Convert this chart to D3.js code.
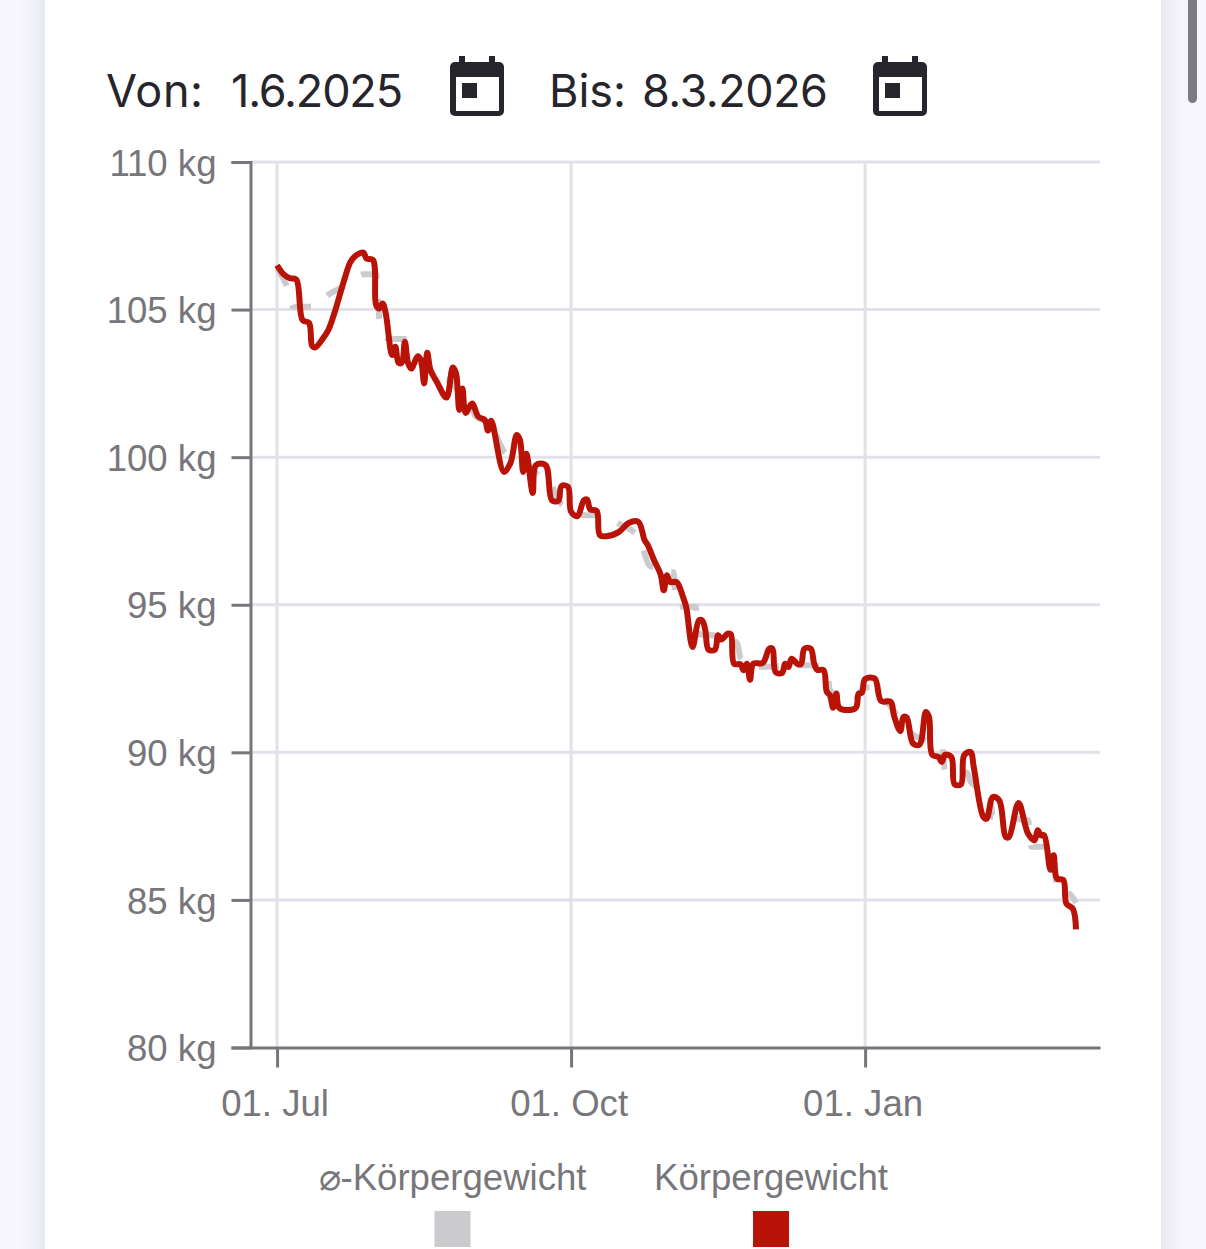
<!DOCTYPE html>
<html>
<head>
<meta charset="utf-8">
<script src="https://cdn.jsdelivr.net/npm/d3@7"></script>
<style>
  html, body { margin: 0; padding: 0; background: #f6f6fc; overflow: hidden; }
  svg { display: block; }
  text { font-family: "Liberation Sans", sans-serif; }
</style>
</head>
<body>
<script>
// variables:
var w = 1206
var h = 1249

// data: days since 1 Jul 2025 and weight in kg
var weightDays = [0, 2, 4, 6, 8, 10, 11, 12, 14, 16, 18, 21, 23, 25, 27, 28, 30, 31, 32, 33, 34, 36, 37, 38, 39, 40, 41, 42, 44, 45, 46, 47, 48, 50, 53, 55, 56, 57, 58, 59, 61, 63, 65, 66, 67, 71, 73, 75, 76, 77, 78, 80, 81, 84, 86, 88, 89, 91, 92, 94, 96, 97, 98, 100, 101, 103, 107, 110, 113, 115, 116, 118, 120, 121, 122, 123, 125, 127, 128, 130, 132, 133, 134, 135, 137, 138, 139, 141, 142, 143, 145, 146, 147, 148, 149, 152, 154, 155, 156, 158, 159, 160, 161, 163, 164, 165, 167, 168, 169, 171, 172, 173, 174, 175, 176, 181, 182, 183, 184, 187, 189, 192, 193, 195, 196, 197, 199, 201, 203, 204, 205, 207, 208, 209, 211, 212, 214, 215, 217, 218, 221, 222, 224, 226, 228, 229, 232, 235, 237, 238, 239, 240, 242, 243, 244, 246, 247, 249, 250]
var weightValues = [106.5, 106.2, 106.06, 106.02, 104.64, 104.55, 103.76, 103.72, 103.97, 104.3, 104.9, 106.0, 106.62, 106.86, 106.93, 106.73, 106.68, 105.15, 105.04, 105.21, 104.87, 103.46, 103.74, 103.2, 103.2, 103.91, 103.18, 103.0, 103.42, 103.29, 102.5, 103.54, 102.95, 102.55, 102.02, 103.04, 102.84, 101.6, 102.33, 101.5, 101.82, 101.37, 101.26, 100.9, 101.23, 99.5, 99.79, 100.75, 100.58, 99.5, 100.12, 98.79, 99.73, 99.73, 98.54, 98.52, 99.02, 99.0, 98.15, 98.0, 98.54, 98.56, 98.23, 98.18, 97.36, 97.32, 97.47, 97.77, 97.81, 97.19, 97.02, 96.5, 96.03, 95.49, 96.0, 95.77, 95.77, 95.27, 94.93, 93.57, 94.47, 94.47, 94.14, 93.48, 93.48, 93.97, 93.82, 94.02, 94.0, 93.0, 92.98, 92.78, 93.0, 92.46, 93.0, 93.03, 93.51, 93.51, 92.72, 92.69, 93.0, 92.89, 93.17, 92.98, 93.0, 93.51, 93.51, 93.03, 92.8, 92.78, 92.05, 91.93, 91.51, 91.99, 91.5, 91.5, 91.99, 92.02, 92.48, 92.5, 91.74, 91.71, 91.26, 90.72, 91.2, 91.18, 90.3, 90.26, 91.37, 91.2, 89.92, 89.84, 89.67, 89.92, 89.84, 88.92, 88.92, 89.9, 90.01, 89.5, 87.81, 87.75, 88.49, 88.37, 87.13, 87.13, 88.28, 87.24, 87.02, 87.36, 87.19, 87.19, 86.02, 86.51, 85.72, 85.68, 84.87, 84.7, 84.0]

var avgDays = [0, 3, 5, 11, 16, 22, 27, 31, 32, 35, 40, 43, 46, 50, 54, 57, 60, 62, 67, 71, 75, 80, 83, 86, 89, 93, 96, 102, 107, 113, 117, 118, 121, 124, 125, 131, 132, 138, 144, 145, 150, 153, 165, 167, 172, 173, 180, 184, 186, 193, 199, 203, 208, 209, 216, 217, 223, 224, 235, 236, 243, 244, 248, 250]
var avgValues = [106.4, 105.8, 105.1, 105.1, 105.5, 105.85, 106.2, 106.2, 104.7, 104.0, 104.0, 103.4, 103.1, 102.7, 102.6, 102.2, 102.1, 101.4, 101.1, 100.2, 99.95, 99.6, 99.2, 99.0, 98.4, 98.2, 98.03, 98.03, 97.75, 97.3, 96.3, 96.3, 96.1, 96.1, 94.93, 94.93, 94.0, 93.95, 93.7, 93.2, 92.9, 92.9, 92.95, 92.95, 92.8, 92.1, 91.7, 92.2, 92.2, 91.4, 90.6, 90.4, 90.2, 89.4, 89.3, 89.0, 88.6, 87.8, 87.7, 86.8, 86.8, 85.3, 85.2, 84.9]

var yTicks = [80, 85, 90, 95, 100, 105, 110]
var xTickDays = [0, 92, 184]
var xTickLabels = ['01. Jul', '01. Oct', '01. Jan']
var legendLabels = ['\u2300-K\u00f6rpergewicht', 'K\u00f6rpergewicht']
var legendColors = ['#cbcacd', '#b91207']

var gridColor = '#e2e1ea'
var axisColor = '#77767b'
var start = Date.UTC(2025, 6, 1)
var dayDate = function (d) { return new Date(start + d * 864e5) }

var svg = d3.select('body')
  .append('svg')
  .attr('width', w)
  .attr('height', h)

// card with soft shadow
var defs = svg.append('defs')
var blur = defs.append('filter').attr('id', 'shade')
  .attr('x', '-5%').attr('width', '110%')
blur.append('feGaussianBlur').attr('stdDeviation', 14)
svg.append('rect').attr('x', 45).attr('y', -40).attr('width', 1116).attr('height', h + 80)
  .attr('fill', '#d9d9e4').attr('filter', 'url(#shade)')
svg.append('rect').attr('x', 45).attr('y', -40).attr('width', 1116).attr('height', h + 80)
  .attr('fill', '#ffffff')

// scrollbar
svg.append('rect').attr('x', 1188).attr('y', -20).attr('width', 9).attr('height', 123)
  .attr('rx', 4.5).attr('fill', '#7b7b82')

// header with date fields
var header = [
  { t: 'Von:', x: 106, len: 97 },
  { t: '1.6.2025', x: 231, len: 172 },
  { t: 'Bis:', x: 549, len: 77 },
  { t: '8.3.2026', x: 642, len: 186 }
]
svg.selectAll('text.head')
  .data(header)
  .enter()
  .append('text')
  .attr('class', 'head')
  .attr('x', function (d) { return d.x })
  .attr('y', 107)
  .attr('font-size', '45px')
  .attr('fill', '#26252b')
  .attr('textLength', function (d) { return d.len })
  .attr('lengthAdjust', 'spacing')
  .style('font-family', 'Inter, sans-serif')
  .text(function (d) { return d.t })

// calendar icons
var iconColor = '#26252b'
;[450, 873].forEach(function (ix) {
  var g = svg.append('g').attr('transform', 'translate(' + ix + ',0)')
  g.append('rect').attr('x', 0).attr('y', 62).attr('width', 54).attr('height', 54).attr('rx', 5).attr('fill', iconColor)
  g.append('rect').attr('x', 9).attr('y', 56).attr('width', 6).attr('height', 8).attr('fill', iconColor)
  g.append('rect').attr('x', 39).attr('y', 56).attr('width', 6).attr('height', 8).attr('fill', iconColor)
  g.append('rect').attr('x', 6).attr('y', 77).attr('width', 43).attr('height', 34).attr('fill', '#ffffff')
  g.append('rect').attr('x', 12).attr('y', 83).attr('width', 15).attr('height', 15).attr('fill', iconColor)
})

// scales
var xScale = d3.scaleUtc()
  .domain([dayDate(-8), dayDate(257.5)])
  .range([251.5, 1100])

var yScale = d3.scaleLinear()
  .domain([80, 110])
  .range([1047.5, 162])

// grid
svg.append('g').selectAll('line')
  .data(yTicks.slice(1))
  .enter()
  .append('line')
  .attr('x1', 251).attr('x2', 1100)
  .attr('y1', function (d) { return yScale(d) })
  .attr('y2', function (d) { return yScale(d) })
  .attr('stroke', gridColor).attr('stroke-width', 3)

svg.append('g').selectAll('line')
  .data(xTickDays)
  .enter()
  .append('line')
  .attr('x1', function (d) { return xScale(dayDate(d)) })
  .attr('x2', function (d) { return xScale(dayDate(d)) })
  .attr('y1', 162).attr('y2', 1047)
  .attr('stroke', gridColor).attr('stroke-width', 3)

// axes
var yAxis = d3.axisLeft(yScale)
  .tickValues(yTicks)
  .tickFormat(function (d) { return d + ' kg' })
  .tickSize(19)
  .tickPadding(15)

var xAxis = d3.axisBottom(xScale)
  .tickValues(xTickDays.map(dayDate))
  .tickFormat(function (d, i) { return xTickLabels[i] })
  .tickSize(20)
  .tickSizeOuter(0)
  .tickPadding(23)

var styleAxis = function (g) {
  g.selectAll('path, line').attr('stroke', axisColor).attr('stroke-width', 3)
  g.selectAll('text').attr('fill', axisColor).attr('font-size', '36.6px')
    .style('font-family', '"Liberation Sans", sans-serif')
}

svg.append('g').attr('transform', 'translate(250.5,0)').call(yAxis).call(styleAxis)
  .selectAll('text').attr('transform', 'translate(0,1.5)')
svg.append('g').attr('transform', 'translate(0,1047.5)').call(xAxis).call(styleAxis)
  .selectAll('text').attr('transform', 'translate(-2.5,0)')

// lines
var line = d3.line()
  .x(function (d) { return xScale(dayDate(d[0])) })
  .y(function (d) { return yScale(d[1]) })

svg.append('path')
  .attr('d', line.curve(d3.curveMonotoneX)(d3.zip(avgDays, avgValues)))
  .attr('fill', 'none')
  .attr('stroke', legendColors[0])
  .attr('stroke-width', 6)
  .attr('stroke-dasharray', '20,20')

svg.append('path')
  .attr('d', line.curve(d3.curveCatmullRom.alpha(0.5))(d3.zip(weightDays, weightValues)))
  .attr('fill', 'none')
  .attr('stroke', legendColors[1])
  .attr('stroke-width', 6)

// legend
var legendX = [452.5, 771]
svg.selectAll('text.legend')
  .data(legendLabels)
  .enter()
  .append('text')
  .attr('class', 'legend')
  .attr('x', function (d, i) { return legendX[i] })
  .attr('y', 1190)
  .attr('text-anchor', 'middle')
  .attr('font-size', '36.6px')
  .attr('fill', axisColor)
  .text(function (d) { return d })

svg.selectAll('rect.swatch')
  .data(legendColors)
  .enter()
  .append('rect')
  .attr('class', 'swatch')
  .attr('x', function (d, i) { return legendX[i] - 18 })
  .attr('y', 1211)
  .attr('width', 36)
  .attr('height', 36)
  .attr('fill', function (d) { return d })
</script>
</body>
</html>
